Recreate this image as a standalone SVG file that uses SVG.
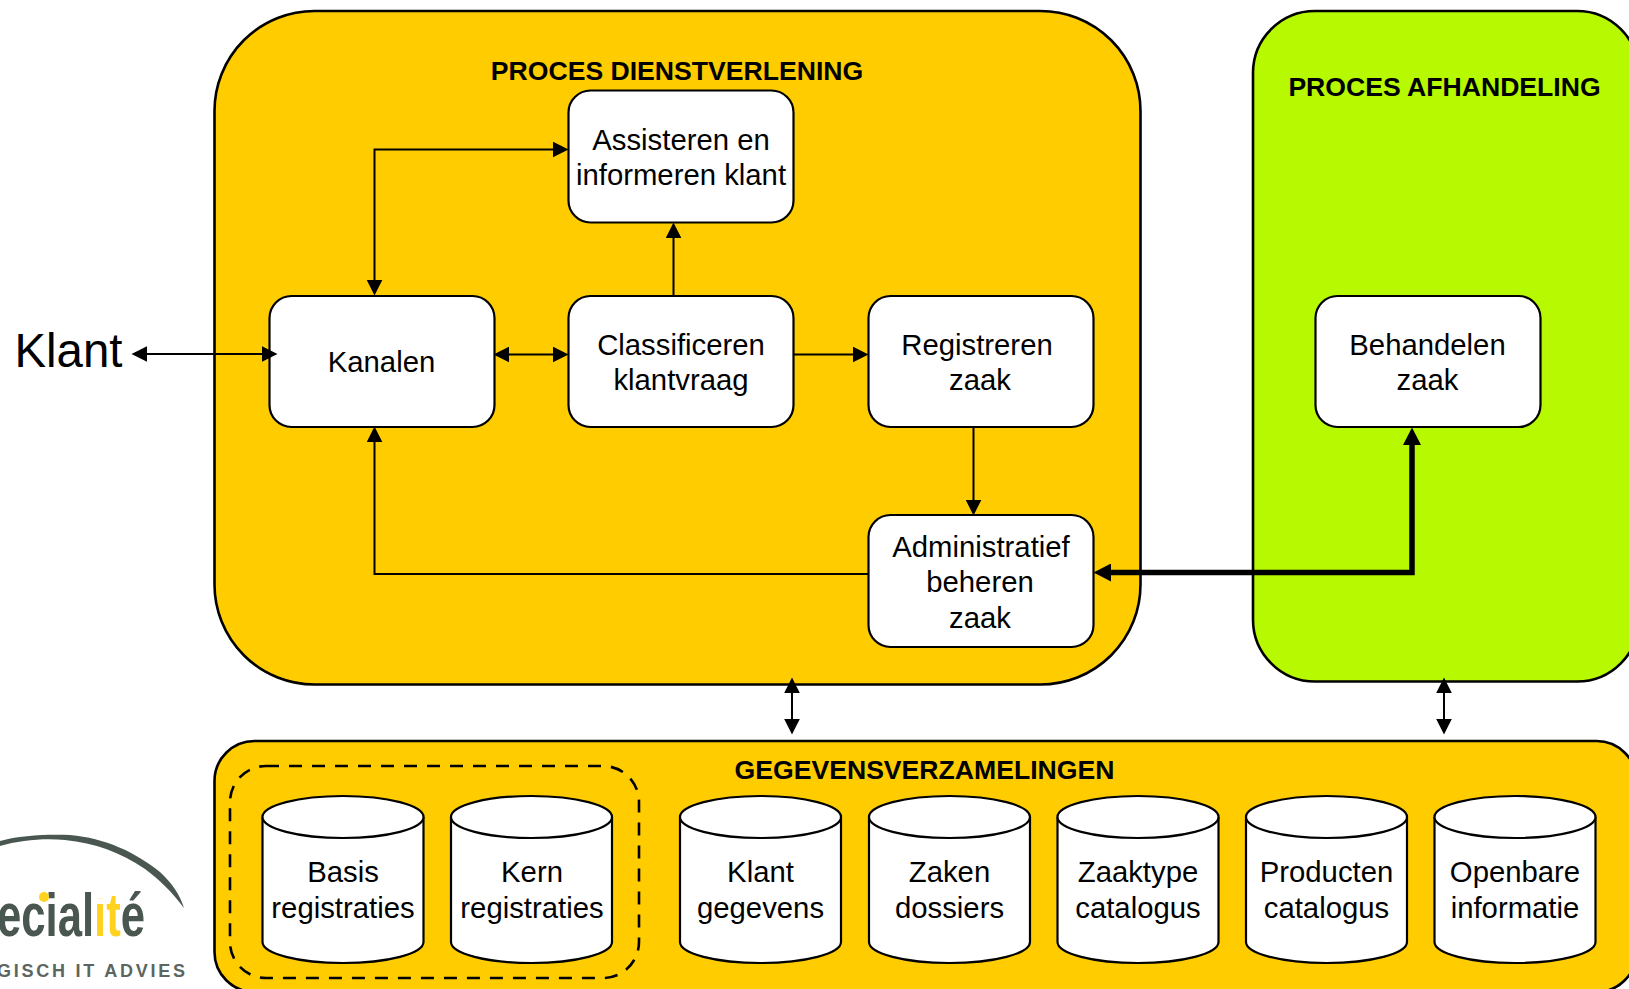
<svg xmlns="http://www.w3.org/2000/svg" width="1629" height="989" viewBox="0 0 1629 989">
<style>
text{font-family:"Liberation Sans",Arial,sans-serif;fill:#000;text-anchor:middle}
.t{font-size:29.3px}
.h{font-size:26.6px;font-weight:bold}
.box{fill:#fff;stroke:#000;stroke-width:2.2}
.zone{stroke:#000;stroke-width:2.6}
.o{fill:#fc0}
.g{fill:#b6f900}
.dash{fill:none;stroke:#000;stroke-width:2.6;stroke-dasharray:13 10}
.c{fill:none;stroke:#000;stroke-width:2}
.k{fill:none;stroke:#000;stroke-width:5.5}
.lg{font-size:62px;font-weight:bold;text-anchor:start;fill:url(#lgfill)}
</style>
<defs>
<linearGradient id="lgfill" gradientUnits="userSpaceOnUse" x1="0" y1="0" x2="150" y2="0">
<stop offset="0.617" stop-color="#4a5650"/><stop offset="0.617" stop-color="#ffd21f"/><stop offset="0.81" stop-color="#ffd21f"/><stop offset="0.81" stop-color="#4a5650"/>
</linearGradient>
<marker id="a" markerUnits="userSpaceOnUse" markerWidth="16" markerHeight="16" viewBox="0 0 16 16" refX="13" refY="8" orient="auto-start-reverse"><path d="M0 0.2 L15.5 8 L0 15.8Z" fill="#000"/></marker>
<marker id="b" markerUnits="userSpaceOnUse" markerWidth="18" markerHeight="18" viewBox="0 0 18 18" refX="9" refY="9" orient="auto-start-reverse"><path d="M0 0 L17.5 9 L0 18Z" fill="#000"/></marker>
<path id="cyl" d="M0 21V146C0 157.600 36 167 80.500 167S161 157.600 161 146V21" class="box"/>
</defs>

<g id="logo">
<path d="M0 841C20 835 50 834 70 835C105 838 135 852 160 872C172 883 180 895 184 908C172 892 160 880 145 869C120 852 95 843 65 840C45 838 20 840 0 846Z" fill="#4a5650"/>
<text class="lg" x="-3" y="936" textLength="148" lengthAdjust="spacingAndGlyphs">ecialité</text>
<rect x="93" y="885" width="10" height="13" fill="#fff"/>
<circle cx="44" cy="897" r="5" fill="#ffd21f"/>
<text x="-3" y="977" font-size="18" font-weight="bold" textLength="188" style="text-anchor:start;fill:#5c6660">GISCH IT ADVIES</text>
</g>

<g id="klant"><text x="68.500" y="367" font-size="47.400">Klant</text></g>

<g id="proces-dienstverlening">
<rect class="zone o" x="214.500" y="11" width="926" height="673.500" rx="100"/>
<text class="h" x="677" y="80">PROCES DIENSTVERLENING</text>
</g>
<g id="proces-afhandeling">
<rect class="zone g" x="1253" y="11" width="386" height="670.500" rx="62"/>
<text class="h" x="1444.500" y="96">PROCES AFHANDELING</text>
</g>
<g id="gegevensverzamelingen">
<rect class="zone o" x="214.500" y="741" width="1422" height="251" rx="40"/>
<text class="h" x="924.500" y="779">GEGEVENSVERZAMELINGEN</text>
<rect class="dash" x="230" y="766" width="409" height="212" rx="36"/>
</g>

<g id="assisteren"><rect class="box" x="568.500" y="90.500" width="225" height="132" rx="22"/><text class="t" x="681" y="150">Assisteren en</text><text class="t" x="681" y="185">informeren klant</text></g>
<g id="kanalen"><rect class="box" x="269.500" y="296" width="225" height="131" rx="22"/><text class="t" x="381.500" y="372">Kanalen</text></g>
<g id="classificeren"><rect class="box" x="568.500" y="296" width="225" height="131" rx="22"/><text class="t" x="681" y="355">Classificeren</text><text class="t" x="681" y="390">klantvraag</text></g>
<g id="registreren"><rect class="box" x="868.500" y="296" width="225" height="131" rx="22"/><text class="t" x="977" y="355">Registreren</text><text class="t" x="980" y="390">zaak</text></g>
<g id="administratief"><rect class="box" x="868.500" y="515" width="225" height="132" rx="22"/><text class="t" x="981" y="556.500">Administratief</text><text class="t" x="980" y="592">beheren</text><text class="t" x="980" y="628">zaak</text></g>
<g id="behandelen"><rect class="box" x="1315.500" y="296" width="225" height="131" rx="22"/><text class="t" x="1427.500" y="355">Behandelen</text><text class="t" x="1427.500" y="390">zaak</text></g>

<g id="basis"><g transform="translate(262.500 796)"><use href="#cyl"/><ellipse class="box" cx="80.500" cy="21" rx="80.500" ry="21"/></g><text class="t" x="343" y="882">Basis</text><text class="t" x="343" y="918">registraties</text></g>
<g id="kern"><g transform="translate(451 796)"><use href="#cyl"/><ellipse class="box" cx="80.500" cy="21" rx="80.500" ry="21"/></g><text class="t" x="532" y="882">Kern</text><text class="t" x="532" y="918">registraties</text></g>
<g id="klantgegevens"><g transform="translate(680 796)"><use href="#cyl"/><ellipse class="box" cx="80.500" cy="21" rx="80.500" ry="21"/></g><text class="t" x="760.500" y="882">Klant</text><text class="t" x="760.500" y="918">gegevens</text></g>
<g id="zaken"><g transform="translate(869 796)"><use href="#cyl"/><ellipse class="box" cx="80.500" cy="21" rx="80.500" ry="21"/></g><text class="t" x="949.500" y="882">Zaken</text><text class="t" x="949.500" y="918">dossiers</text></g>
<g id="zaaktype"><g transform="translate(1057.500 796)"><use href="#cyl"/><ellipse class="box" cx="80.500" cy="21" rx="80.500" ry="21"/></g><text class="t" x="1138" y="882">Zaaktype</text><text class="t" x="1138" y="918">catalogus</text></g>
<g id="producten"><g transform="translate(1246 796)"><use href="#cyl"/><ellipse class="box" cx="80.500" cy="21" rx="80.500" ry="21"/></g><text class="t" x="1326.500" y="882">Producten</text><text class="t" x="1326.500" y="918">catalogus</text></g>
<g id="openbare"><g transform="translate(1434.500 796)"><use href="#cyl"/><ellipse class="box" cx="80.500" cy="21" rx="80.500" ry="21"/></g><text class="t" x="1515" y="882">Openbare</text><text class="t" x="1515" y="918">informatie</text></g>

<g id="connectors">
<path class="c" d="M134 354H275" marker-start="url(#a)" marker-end="url(#a)"/>
<path class="c" d="M496 354.500H566" marker-start="url(#a)" marker-end="url(#a)"/>
<path class="c" d="M374.500 293V149.500H566" marker-start="url(#a)" marker-end="url(#a)"/>
<path class="c" d="M673.500 296V225" marker-end="url(#a)"/>
<path class="c" d="M794 354.500H866" marker-end="url(#a)"/>
<path class="c" d="M973.500 427V513" marker-end="url(#a)"/>
<path class="c" d="M868 574H374.500V429" marker-end="url(#a)"/>
<path class="k" d="M1102 572.500H1412V436" marker-start="url(#b)" marker-end="url(#b)"/>
<path class="c" d="M792 680V732" marker-start="url(#a)" marker-end="url(#a)"/>
<path class="c" d="M1444 680V732" marker-start="url(#a)" marker-end="url(#a)"/>
</g>
</svg>
